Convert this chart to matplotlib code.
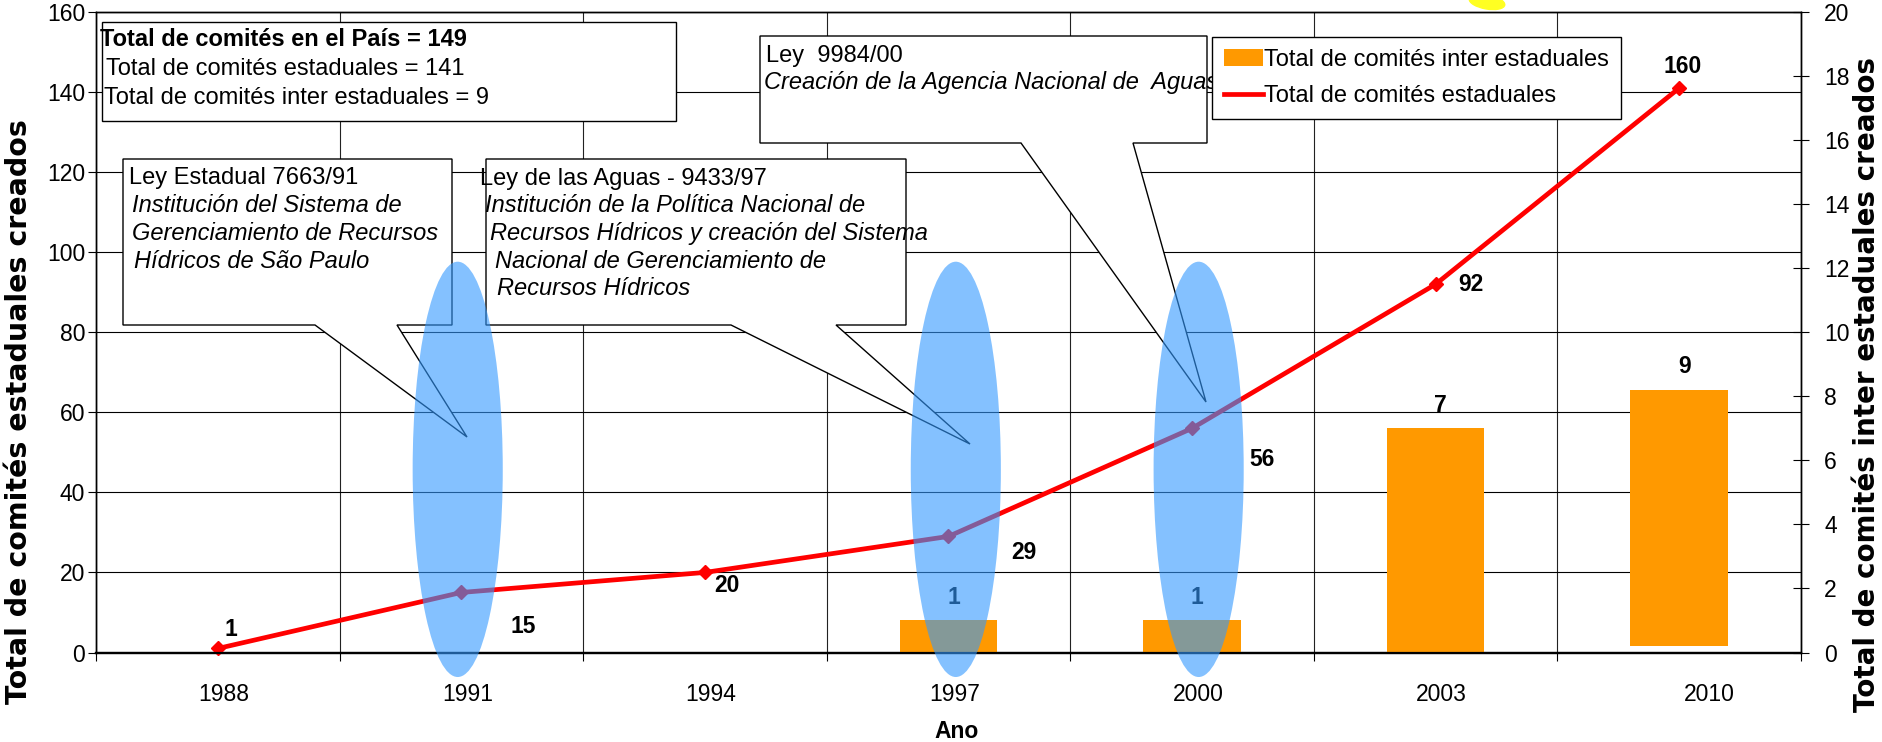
import numpy as np
import matplotlib
matplotlib.use("Agg")
from matplotlib import pyplot as plt
from matplotlib.patches import Ellipse, Polygon, Rectangle, Patch
from matplotlib.lines import Line2D
from matplotlib.transforms import Affine2D, ScaledTranslation

plt.rcParams['font.family'] = ['Liberation Sans', 'DejaVu Sans']

# data
years = ['1988', '1991', '1994', '1997', '2000', '2003', '2010']
estaduales = [1, 15, 20, 29, 56, 92, 141]
estaduales_labels = ['1', '15', '20', '29', '56', '92', '160']
inter = [0, 0, 0, 1, 1, 7, 8]
inter_base = [0, 0, 0, 0, 0, 0, 0.2]
inter_labels = ['', '', '', '1', '1', '7', '9']
highlight = ['1991', '1997', '2000']

W, H = 1883, 742
fig = plt.figure(figsize=(W / 100, H / 100), dpi=100)
ax = fig.add_axes([96 / W, (H - 652.5) / H, 1705 / W, 640.5 / H])
ax2 = ax.twinx()
# pixel coords measured from the top-left corner of the picture
pix = Affine2D().scale(1 / W, -1 / H).translate(0, 1) + fig.transFigure

x = np.arange(len(years))
RED = '#FF0000'
ORANGE = '#FF9900'

ax.plot(x, estaduales, color=RED, lw=3.4, marker='D', ms=7, zorder=3, clip_on=False)
ax2.bar(x, inter, width=0.4, bottom=inter_base, color=ORANGE, zorder=2)

# value labels
line_off = [(13, -19), (62, 34), (22, 13), (75, 16), (70, 31), (35, 0), (3, -22)]
for i, (v, lab) in enumerate(zip(estaduales, estaduales_labels)):
    dx, dy = line_off[i]
    ax.annotate(lab, (i, v), xytext=(dx * 0.72, -dy * 0.72), textcoords='offset points',
                ha='center', va='center', fontsize=16.5, fontweight='bold', zorder=6)
for i, (b, v, lab) in enumerate(zip(inter_base, inter, inter_labels)):
    if lab:
        ax2.annotate(lab, (i, b + v), xytext=(5 * 0.72, 23 * 0.72), textcoords='offset points',
                     ha='center', va='center', fontsize=16.5, fontweight='bold', zorder=3)

# axes, ticks, grid
ax.set_xlim(-0.5, len(years) - 0.5)
ax.set_ylim(0, 160)
ax2.set_ylim(0, 20)
ax.set_yticks(range(0, 161, 20))
ax2.set_yticks(range(0, 21, 2))
ax.set_xticks(x)
ax.set_xticklabels(years)
ax.set_xticks(np.arange(-0.5, len(years), 1), minor=True)
ax.yaxis.grid(True, color='black', lw=0.8)
ax.xaxis.grid(True, which='minor', color='#222222', lw=0.8)
ax.set_axisbelow(True)
ax.tick_params(axis='x', which='major', length=0, pad=22, labelsize=16.5)
ax.tick_params(axis='x', which='minor', length=5.8, direction='out', width=0.8)
ax.tick_params(axis='y', direction='out', length=5.8, pad=2, labelsize=16.5, width=0.8)
ax2.tick_params(axis='y', direction='inout', length=11.5, pad=11, labelsize=16.5, width=0.8)
for s in ['top', 'left', 'right']:
    ax.spines[s].set_linewidth(1.0)
    ax2.spines[s].set_linewidth(1.0)
ax.spines['bottom'].set_linewidth(1.6)
ax2.spines['bottom'].set_linewidth(1.6)

for k, lbl in enumerate(ax.get_xticklabels()):
    shift = 30 if k == len(years) - 1 else 6
    lbl.set_transform(lbl.get_transform() + ScaledTranslation(shift / 100, 0, fig.dpi_scale_trans))

fx = lambda px: (px - 96) / 1705
fy = lambda py: (652.5 - py) / 640.5

ax.set_xlabel('Ano', fontsize=16.5, fontweight='bold')
ax.xaxis.set_label_coords(fx(957), fy(720))
ax.set_ylabel('Total de comités estaduales creados', fontsize=20.5, fontweight='bold',
              fontfamily='DejaVu Sans')
ax.yaxis.set_label_coords(fx(33), fy(412))
ax2.set_ylabel('Total de comités inter estaduales creados', fontsize=20, fontweight='bold',
               fontfamily='DejaVu Sans', rotation=90)
ax2.yaxis.set_label_coords(fx(1853), fy(384))

# callout boxes
def callout(box, base, tip):
    l, t, r, b = box
    pts = [(l, t), (r, t), (r, b), (base[1], b), tip, (base[0], b), (l, b)]
    ax.add_patch(Polygon(pts, closed=True, transform=pix, facecolor='white',
                         edgecolor='black', lw=1.0, zorder=4, clip_on=False))

ax.add_patch(Rectangle((102, 22), 574, 99, transform=pix, facecolor='white',
                       edgecolor='black', lw=1.0, zorder=4, clip_on=False))
callout((123, 159, 452, 325), (315, 397), (467, 437))
callout((486, 159, 906, 325), (731, 836), (970, 444))
callout((760, 36, 1207, 143), (1021, 1133), (1206, 402))

notes = [
    (100, 46, 'Total de comités en el País = 149', 'normal', 'bold'),
    (106, 75, 'Total de comités estaduales = 141', 'normal', 'normal'),
    (104, 104, 'Total de comités inter estaduales = 9', 'normal', 'normal'),
    (129, 184, 'Ley Estadual 7663/91', 'normal', 'normal'),
    (132, 212, 'Institución del Sistema de', 'italic', 'normal'),
    (132, 240, 'Gerenciamiento de Recursos', 'italic', 'normal'),
    (134, 267.5, 'Hídricos de São Paulo', 'italic', 'normal'),
    (480, 185, 'Ley de las Aguas - 9433/97', 'normal', 'normal'),
    (485, 212, 'Institución de la Política Nacional de', 'italic', 'normal'),
    (490, 240, 'Recursos Hídricos y creación del Sistema', 'italic', 'normal'),
    (495, 267.5, 'Nacional de Gerenciamiento de', 'italic', 'normal'),
    (497, 295, 'Recursos Hídricos', 'italic', 'normal'),
    (766, 62, 'Ley  9984/00', 'normal', 'normal'),
    (764, 89, 'Creación de la Agencia Nacional de  Aguas', 'italic', 'normal'),
]
for tx, ty, s, st, wt in notes:
    ax.text(tx, ty, s, transform=pix, fontsize=17, fontstyle=st, fontweight=wt,
            ha='left', va='baseline', zorder=5, clip_on=False)

# highlight ellipses drawn over everything else
ell_shift = {'1991': -0.015, '1997': 0.03, '2000': 0.027}
for yr in highlight:
    i = years.index(yr)
    ax2.add_patch(Ellipse((i + ell_shift[yr], 45.75), 0.37, 103.75, transform=ax.transData,
                          facecolor='#3399FF', alpha=0.6, lw=0, zorder=10, clip_on=False))

handles = [Patch(facecolor=ORANGE), Line2D([], [], color=RED, lw=3.4)]
leg = ax2.legend(handles, ['Total de comités inter estaduales', 'Total de comités estaduales'],
                 loc='upper left', bbox_to_anchor=(fx(1212), fy(37)), bbox_transform=ax.transAxes,
                 fancybox=False, edgecolor='black', framealpha=1, borderaxespad=0,
                 fontsize=17, handlelength=1.65, handletextpad=0.05, borderpad=0.5,
                 labelspacing=0.6)
leg.get_frame().set_linewidth(1.0)
leg.set_zorder(20)

fig.add_artist(Ellipse((1487, 2), 36, 14, angle=10, transform=pix, color='#FFFF22'))

fig.savefig('out.png', dpi=100)
